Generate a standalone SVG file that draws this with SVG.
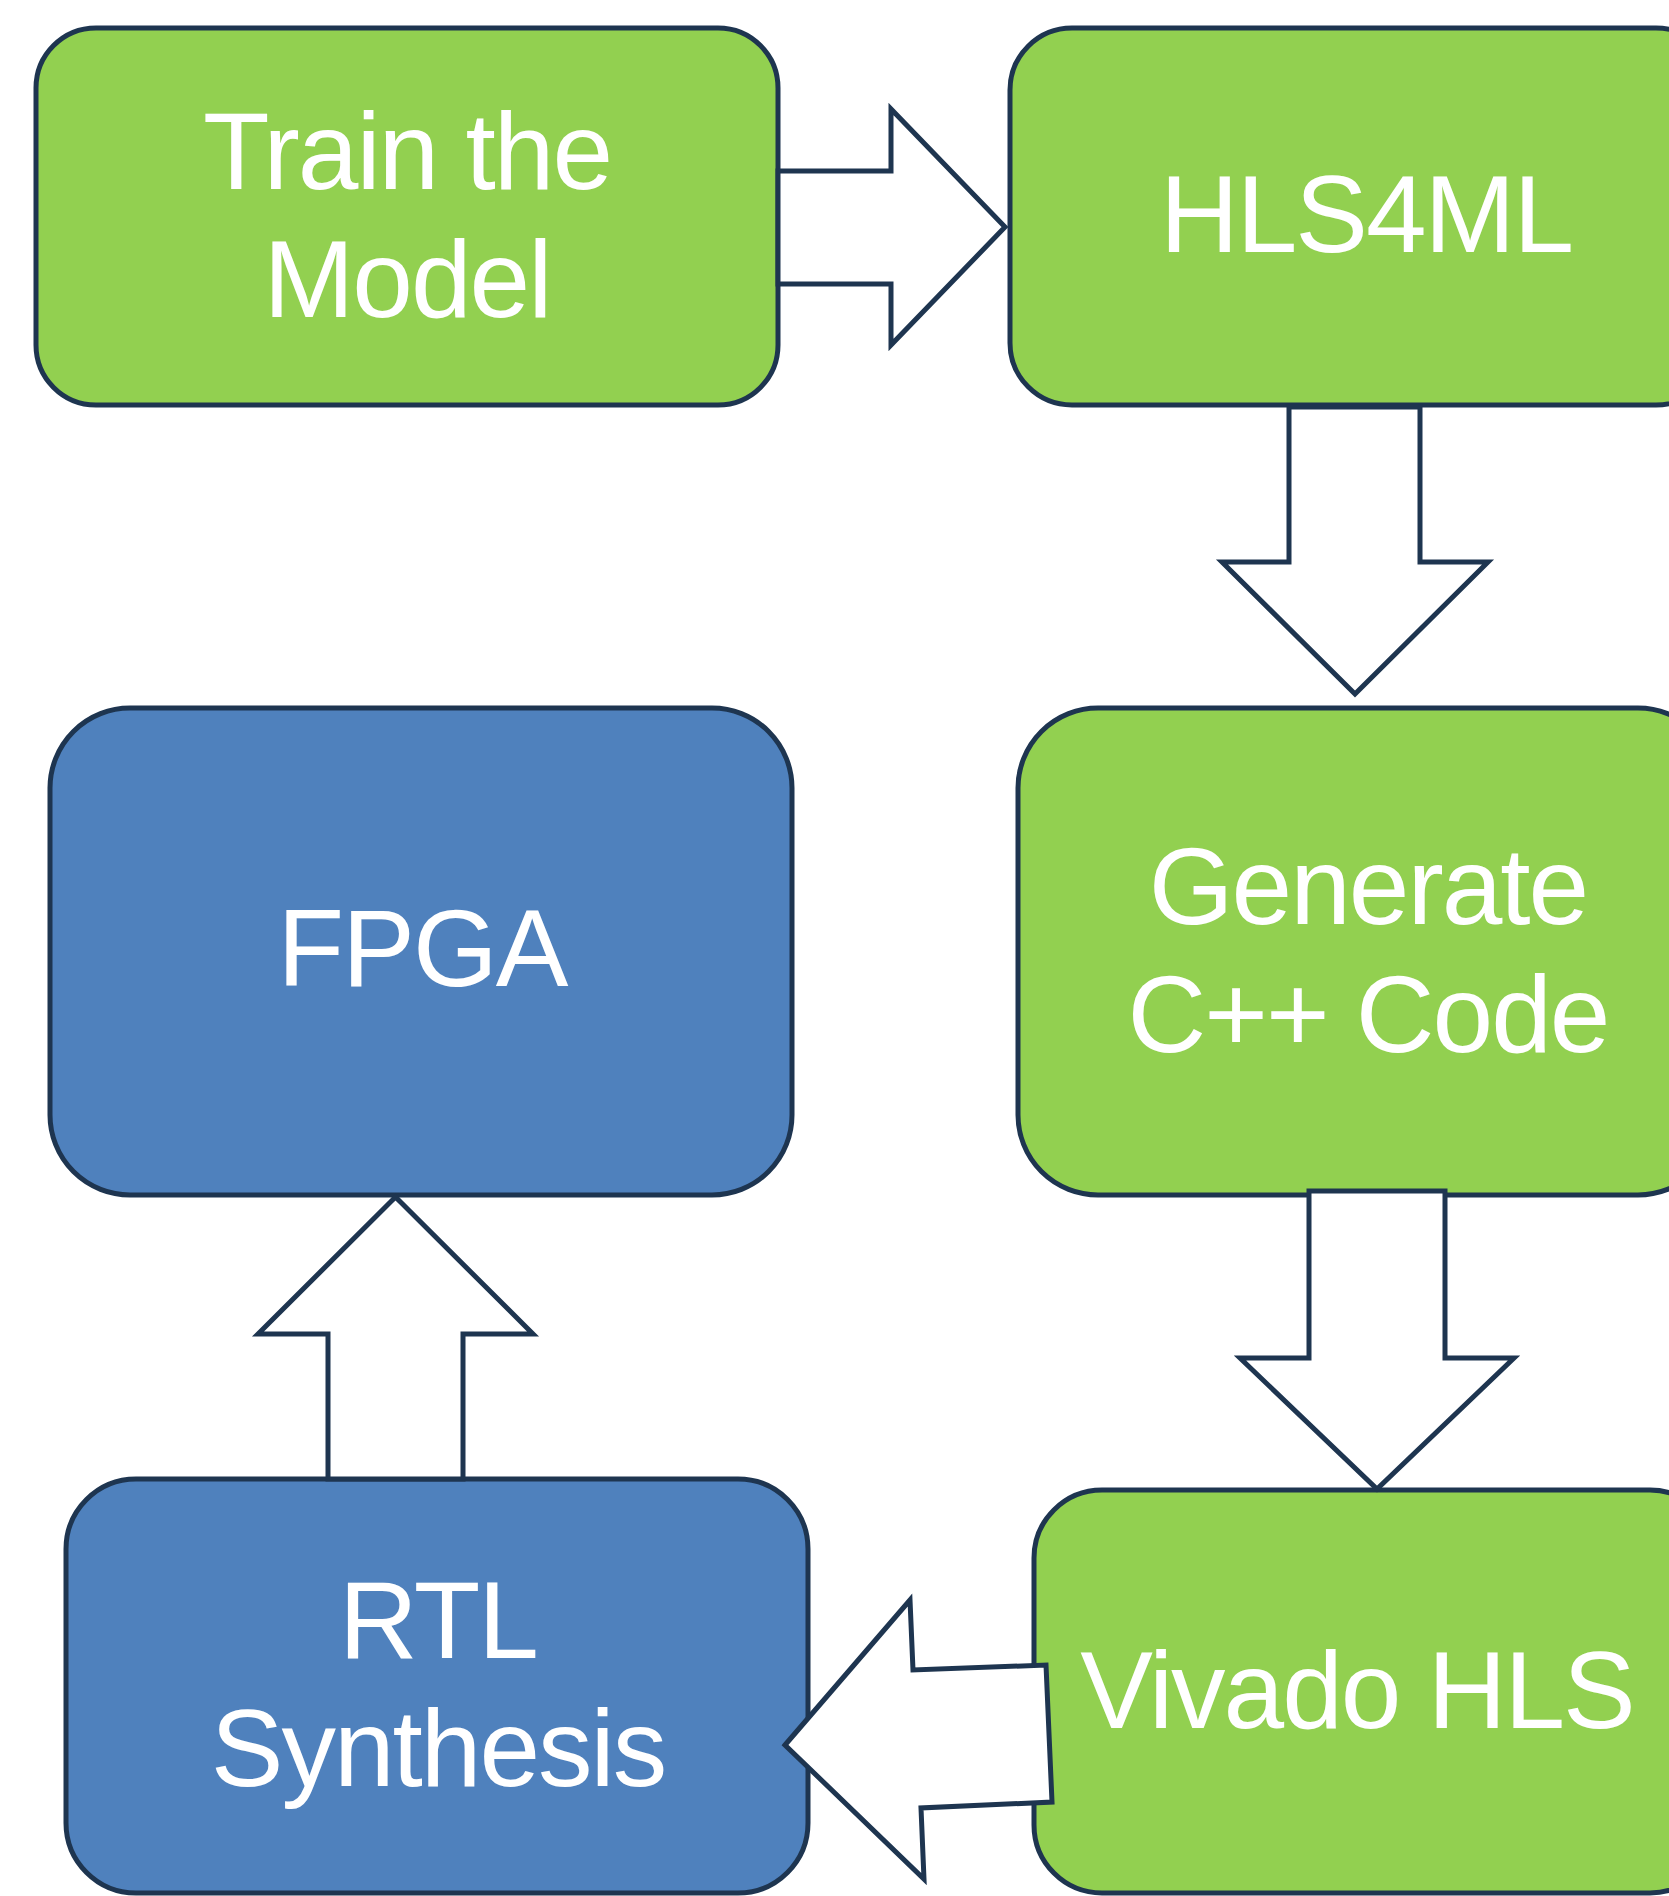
<svg xmlns="http://www.w3.org/2000/svg" width="1669" height="1896" viewBox="0 0 1669 1896">
<style>
.green{fill:#92D050;stroke:#1E3550;stroke-width:5}
.blue{fill:#4F81BD;stroke:#1E3550;stroke-width:5}
.arrow{fill:#FFFFFF;stroke:#1E3550;stroke-width:5;stroke-linejoin:miter}
.lbl{font-family:"Liberation Sans",Arial,Helvetica,sans-serif;font-size:109px;letter-spacing:-2px;fill:#FFFFFF;text-anchor:middle}
</style>
<rect width="1669" height="1896" fill="#FFFFFF"/>
<g id="node-train">
<rect class="green" x="36" y="28" width="742" height="377" rx="60" ry="60"/>
<text class="lbl" x="407" y="189">Train the</text>
<text class="lbl" x="407" y="317">Model</text>
</g>
<g id="node-hls4ml">
<rect class="green" x="1010" y="28" width="708" height="377" rx="62" ry="62"/>
<text class="lbl" x="1366" y="252">HLS4ML</text>
</g>
<g id="node-generate">
<rect class="green" x="1018" y="708" width="700" height="487" rx="80" ry="80"/>
<text class="lbl" x="1368" y="924">Generate</text>
<text class="lbl" x="1368" y="1052">C++ Code</text>
</g>
<g id="node-fpga">
<rect class="blue" x="50" y="708" width="742" height="487" rx="80" ry="80"/>
<text class="lbl" x="422" y="986">FPGA</text>
</g>
<g id="node-rtl">
<rect class="blue" x="66" y="1479" width="742" height="414" rx="70" ry="70"/>
<text class="lbl" x="438" y="1658">RTL</text>
<text class="lbl" x="438" y="1786">Synthesis</text>
</g>
<g id="node-vivado">
<rect class="green" x="1034" y="1490" width="684" height="403" rx="68" ry="68"/>
<text class="lbl" x="1357" y="1728">Vivado HLS</text>
</g>
<g id="connectors">
<polygon class="arrow" points="778,171 891,171 891,109 1005,227 891,345 891,284 778,284"/>
<polygon class="arrow" points="1289,407 1420,407 1420,562 1488,562 1355,694 1222,562 1289,562"/>
<polygon class="arrow" points="1309,1191 1445,1191 1445,1358 1514,1358 1377,1489 1240,1358 1309,1358"/>
<polygon class="arrow" points="328,1479 328,1334 258,1334 395.5,1197 533,1334 463,1334 463,1479"/>
<polygon class="arrow" points="785,1745 910,1600 913,1670 1046,1665 1052,1802 921,1808 924,1879"/>
</g>
</svg>
